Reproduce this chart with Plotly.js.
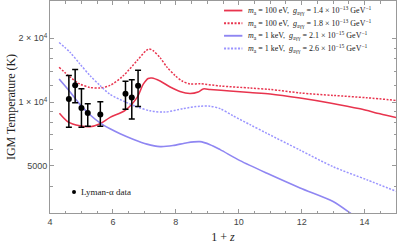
<!DOCTYPE html>
<html><head><meta charset="utf-8">
<script src="https://cdn.plot.ly/plotly-3.0.1.min.js"></script>
<style>body{margin:0;background:#fff}#plot{width:399px;height:247px}</style>
</head><body><div id="plot"></div>
<script>
// Lyman-alpha data (1+z, T, upper, lower)
const dataZ  = [4.6, 4.8, 5.0, 5.2, 5.6, 6.4, 6.6, 6.8];
const dataT  = [10340, 12020, 9380, 8890, 8740, 10960, 10530, 11950];
const dataHi = [13350, 14240, 11570, 9840, 10030, 12560, 12750, 14140];
const dataLo = [7620, 9940, 7620, 7700, 7700, 9250, 8330, 9550];

// m_a = 100 eV, g = 1.4e-13
const red1X = [4.3, 4.57, 4.95, 5.27, 5.59, 5.91, 6.39, 6.77, 6.96, 7.12, 7.24, 7.5, 7.82, 8.13, 8.45, 8.71, 8.87, 9.09, 9.72, 10.36, 11.0, 11.95, 12.9, 13.86, 14.49, 15.0];
const red1Y = [8860, 8080, 7740, 7660, 7910, 8480, 9150, 10530, 12120, 12930, 13000, 12580, 11790, 11230, 10990, 11170, 11540, 11480, 11300, 11110, 10940, 10470, 9920, 9300, 8810, 8460];
// m_a = 100 eV, g = 1.8e-13
const red2X = [4.29, 4.64, 4.95, 5.27, 5.59, 5.91, 6.32, 6.77, 7.05, 7.15, 7.28, 7.5, 7.72, 7.98, 8.2, 8.45, 8.77, 9.41, 10.36, 11.0, 11.95, 13.0, 14.08, 15.0];
const red2Y = [14600, 13130, 12180, 11730, 11660, 11990, 13280, 15700, 17480, 17810, 17480, 16210, 14630, 13350, 12580, 12180, 12210, 11920, 11660, 11480, 11050, 10760, 10490, 10190];
// m_a = 1 keV, g = 2.1e-15
const blue1X = [4.29, 4.64, 4.95, 5.27, 5.59, 5.91, 6.23, 6.64, 7.08, 7.5, 7.91, 8.36, 8.77, 9.09, 9.41, 10.04, 10.9, 11.95, 13.0, 13.54, 13.7];
const blue1Y = [12860, 11170, 9760, 8720, 7990, 7490, 7100, 6690, 6340, 6170, 6240, 6440, 6510, 6300, 5970, 5300, 4620, 3940, 3400, 3000, 2880];
// m_a = 1 keV, g = 2.6e-15
const blue2X = [4.29, 4.64, 4.95, 5.27, 5.59, 5.91, 6.39, 6.77, 7.18, 7.66, 8.23, 8.77, 9.09, 9.41, 9.82, 10.36, 10.9, 11.95, 13.0, 14.08, 15.0];
const blue2Y = [19120, 17170, 15150, 13350, 11990, 10880, 10030, 9500, 9100, 8980, 9320, 9570, 9570, 9320, 8620, 7830, 7120, 5940, 4960, 4300, 3800];

const legendLabels = [
  '<i>m</i><sub>a</sub> = 100 eV,  <i>g</i><sub>aγγ</sub> = 1.4 × 10<sup>−13</sup> GeV<sup>−1</sup>',
  '<i>m</i><sub>a</sub> = 100 eV,  <i>g</i><sub>aγγ</sub> = 1.8 × 10<sup>−13</sup> GeV<sup>−1</sup>',
  '<i>m</i><sub>a</sub> = 1 keV,  <i>g</i><sub>aγγ</sub> = 2.1 × 10<sup>−15</sup> GeV<sup>−1</sup>',
  '<i>m</i><sub>a</sub> = 1 keV,  <i>g</i><sub>aγγ</sub> = 2.6 × 10<sup>−15</sup> GeV<sup>−1</sup>'
];
const yTickVals = [5000, 10000, 20000];
const yTickText = ['5000', '1 × 10<sup>4</sup>', '2 × 10<sup>4</sup>'];
const yMinorVals = [3000, 4000, 6000, 7000, 8000, 9000, 12000, 14000, 16000, 18000];
const xTickVals = [4, 6, 8, 10, 12, 14];

const RED = '#e8344e', BLUE = '#8f86f2', BLUE2 = '#9a94ff';
const DOT = '2px,1.5px';
const styles = [
  {color: RED, width: 1.5, dash: 'solid'},
  {color: RED, width: 1.5, dash: DOT},
  {color: BLUE, width: 1.6, dash: 'solid'},
  {color: BLUE2, width: 1.5, dash: DOT}
];
const series = [[red1X, red1Y], [red2X, red2Y], [blue1X, blue1Y], [blue2X, blue2Y]];

const traces = series.map((s, i) => ({
  x: s[0], y: s[1], type: 'scatter', mode: 'lines',
  line: Object.assign({shape: 'spline', smoothing: 0.8}, styles[i]),
  showlegend: false, hoverinfo: 'skip'
}));
traces.push({
  x: dataZ, y: dataT, type: 'scatter', mode: 'markers',
  marker: {color: '#000', size: 6},
  error_y: {type: 'data', symmetric: false,
    array: dataHi.map((h, i) => h - dataT[i]),
    arrayminus: dataLo.map((l, i) => dataT[i] - l),
    color: '#000', thickness: 1.5, width: 3},
  showlegend: false
});

const serif = 'Liberation Serif, DejaVu Serif, serif';
const rowY = [0.955, 0.895, 0.836, 0.776];
const shapes = [], annotations = [];
rowY.forEach((yy, i) => {
  shapes.push({type: 'line', xref: 'paper', yref: 'paper', x0: 0.503, x1: 0.556, y0: yy, y1: yy,
    line: {color: styles[i].color, width: styles[i].width + 0.3, dash: styles[i].dash}});
  annotations.push({xref: 'paper', yref: 'paper', x: 0.566, y: yy, xanchor: 'left', yanchor: 'middle',
    text: legendLabels[i], showarrow: false, font: {family: serif, size: 8, color: '#222'}});
});
shapes.push({type: 'circle', xref: 'paper', yref: 'paper', xsizemode: 'pixel', ysizemode: 'pixel',
  xanchor: 0.0694, yanchor: 0.099, x0: -2, x1: 2, y0: -2, y1: 2, fillcolor: '#000', line: {width: 0}});
annotations.push({xref: 'paper', yref: 'paper', x: 0.084, y: 0.099, xanchor: 'left', yanchor: 'middle',
  text: 'Lyman-α data', showarrow: false, font: {family: serif, size: 9, color: '#222'}});

const axisCommon = {
  showline: true, linecolor: '#999', linewidth: 1, mirror: 'ticks',
  ticks: 'inside', ticklen: 4, tickcolor: '#999', tickwidth: 1,
  showgrid: false, zeroline: false,
  tickfont: {family: 'Liberation Sans, Arial, sans-serif', size: 9, color: '#444'}
};

const layout = {
  width: 399, height: 247,
  margin: {l: 50, r: 3, t: 1, b: 34},
  paper_bgcolor: '#fff', plot_bgcolor: '#fff',
  xaxis: Object.assign({}, axisCommon, {
    range: [4, 15], tickmode: 'array', tickvals: xTickVals,
    minor: {dtick: 0.5, tick0: 4, ticks: 'inside', ticklen: 2.5, tickcolor: '#999', showgrid: false},
    title: {text: '1 + <i>z</i>', font: {family: serif, size: 12, color: '#222'}, standoff: 6}
  }),
  yaxis: Object.assign({}, axisCommon, {
    type: 'log', range: [Math.log10(3000), Math.log10(30000)],
    tickmode: 'array', tickvals: yTickVals, ticktext: yTickText,
    minor: {tickmode: 'array', tickvals: yMinorVals, ticks: 'inside', ticklen: 2.5, tickcolor: '#999', showgrid: false},
    title: {text: 'IGM Temperature (K)', font: {family: serif, size: 12, color: '#222'}, standoff: 0}
  }),
  shapes: shapes, annotations: annotations
};

Plotly.newPlot('plot', traces, layout, {displayModeBar: false, staticPlot: true});
</script>
</body></html>
